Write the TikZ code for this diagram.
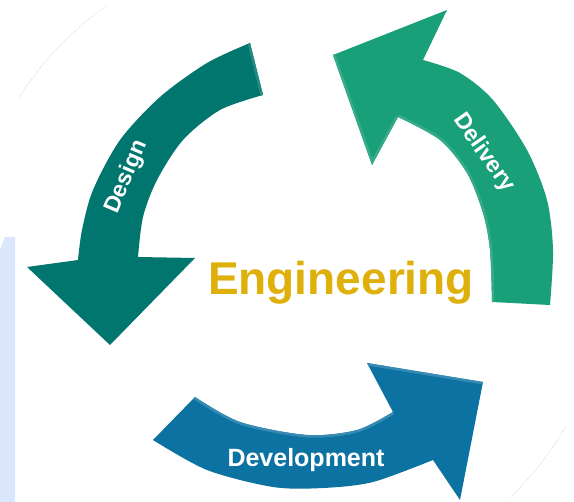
\documentclass[tikz,border=0pt]{standalone}
\usepackage{fontspec}
\setmainfont{Liberation Sans}
\definecolor{cdesign}{HTML}{00766F}
\definecolor{cdelivery}{HTML}{19A079}
\definecolor{cdevelop}{HTML}{0B72A1}
\definecolor{cengin}{HTML}{DFB00A}
\definecolor{cstrip}{HTML}{D9E6FB}
\def\devpath{(195,397)
  -- plot[smooth] coordinates {(195,397) (240,422) (307,435) (357,430) (393,412)}
  -- (367,363) -- (483,382) -- (460,500) -- (433,460)
  -- plot[smooth] coordinates {(433,460) (373,482) (323,488) (273,487) (207,470) (153,440)}
  -- cycle}
\def\delpath{(492,302) -- (550,305)
  -- plot[smooth] coordinates {(550,305) (553,250) (547,200) (527,150) (493,100) (460,73) (423,60)}
  -- (447,10) -- (333,55) -- (372,165) -- (398,117)
  -- plot[smooth] coordinates {(398,117) (440,140) (467,173) (483,213) (490,250) (492,302)}
  -- cycle}
\def\despath{(250,43) -- (263,95)
  -- plot[smooth] coordinates {(263,95) (220,110) (183,140) (157,180) (143,217) (138,257)}
  -- (195,258) -- (110,345) -- (27,267) -- (78,260)
  -- plot[smooth] coordinates {(78,260) (82,230) (93,190) (120,140) (160,97) (207,63) (250,43)}
  -- cycle}
\begin{document}
\begin{tikzpicture}[x=1pt,y=-1pt,
  lbl/.style={text=white,font=\bfseries\fontsize{23}{27}\selectfont,inner sep=0pt},
  faint/.style={gray!30,line width=0.7pt,densely dotted},
  hilite/.style={line width=5pt,line join=round}]
\useasboundingbox[fill=white] (0,0) rectangle (574,502);
% left light strip
\fill[cstrip] (0,250) -- (5,237) -- (15,237) -- (15,502) -- (0,502) -- cycle;
% faint background circle
\coordinate (cc) at (290,268);
\draw[faint] (cc) ++(-125:320) arc[start angle=-125,end angle=-148,radius=320];
\draw[faint] (cc) ++(30:318) arc[start angle=30,end angle=46,radius=318];
% Design arrow
\fill[cdesign] \despath;
\begin{scope}
  \clip \despath;
  \draw[hilite,cdesign!85!white] (250,43) -- (263,95);
\end{scope}
% Delivery arrow
\fill[cdelivery] \delpath;
\begin{scope}
  \clip \delpath;
  \draw[hilite,cdelivery!88!white] (333,55) -- (372,165) -- (398,117)
    plot[smooth] coordinates {(398,117) (440,140) (467,173) (483,213) (490,250) (492,302)};
\end{scope}
% Development arrow
\fill[cdevelop] \devpath;
\begin{scope}
  \clip \devpath;
  \draw[hilite,cdevelop!82!white] plot[smooth] coordinates {(195,397) (240,422) (307,435) (357,430) (393,412)};
  \draw[hilite,cdevelop!82!white] (367,363) -- (483,382);
\end{scope}
% labels
\node[lbl,rotate=67] (tdesign) at (127,177) {Design};
\node[lbl,rotate=-55] (tdelivery) at (484,153) {Delivery};
\node[lbl,font=\bfseries\fontsize{25}{30}\selectfont,anchor=base] (tdev) at (306,467) {Development};
\node[text=cengin,font=\bfseries\fontsize{46}{55}\selectfont,inner sep=0pt,anchor=base] (tengin) at (341,295) {Engineering};
\end{tikzpicture}
\end{document}
